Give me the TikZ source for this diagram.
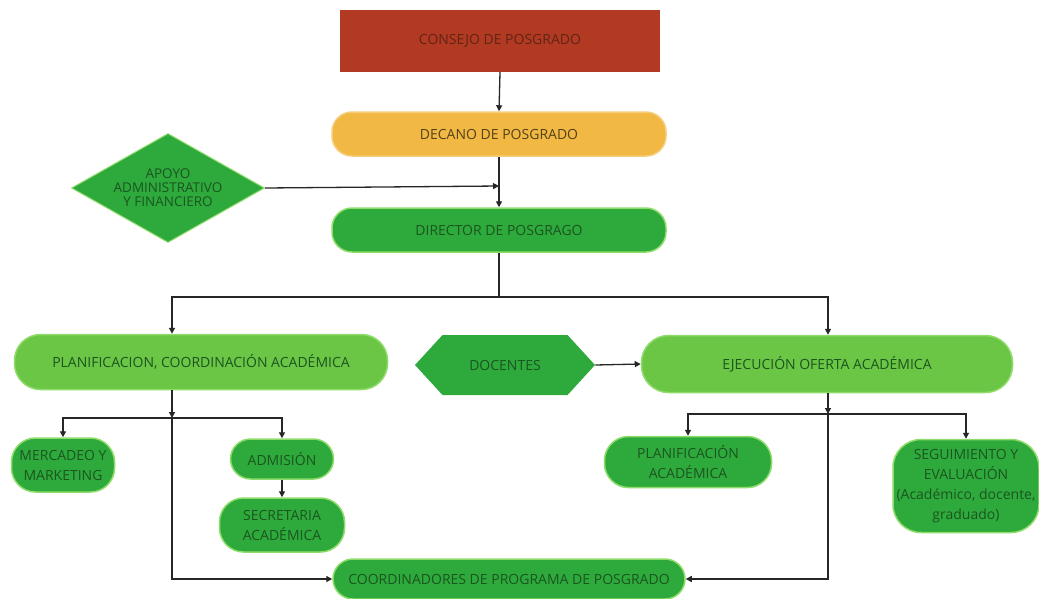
\documentclass[tikz,border=0pt]{standalone}
\usepackage{fontspec}
\setmainfont{Open Sans}
\usetikzlibrary{shapes.geometric,shapes.symbols,arrows.meta}
\definecolor{cred}{HTML}{B33A22}
\definecolor{credtxt}{HTML}{5E2416}
\definecolor{cyel}{HTML}{F1B843}
\definecolor{cyeltxt}{HTML}{54421A}
\definecolor{cgreen}{HTML}{2EAA3C}
\definecolor{clight}{HTML}{6CC645}
\definecolor{cedge}{HTML}{8EDC6A}
\definecolor{ctxt}{HTML}{1B5520}
\definecolor{cline}{HTML}{262626}
\tikzset{
  every node/.style={font=\fontsize{14}{20}\selectfont, align=center, inner sep=2pt},
  pill/.style={rectangle, rounded corners=18pt, fill=cgreen, draw=cedge, line width=1.5pt, text=ctxt},
  lightpill/.style={pill, fill=clight},
  arr/.style={draw=cline, line width=1.3pt, -{Triangle[length=6pt,width=6pt]}},
  ln/.style={draw=cline, line width=1.3pt},
}
\begin{document}
\begin{tikzpicture}[x=1pt,y=-1pt]
\useasboundingbox (0,0) rectangle (1039,598);
\fill[white] (0,0) rectangle (1039,598);
% nodes
\node[rectangle, fill=cred, text=credtxt, minimum width=320pt, minimum height=62pt] (consejo) at (500,41) {CONSEJO DE POSGRADO};
\node[pill, fill=cyel, draw=cyel!70!white, text=cyeltxt, minimum width=334pt, minimum height=44pt, rounded corners=20pt] (decano) at (499,134) {DECANO DE POSGRADO};
\node[diamond, fill=cgreen, draw=cedge, line width=1pt, minimum width=193pt, minimum height=109pt, inner sep=0pt] (apoyo) at (168,188) {};
\node[text=ctxt, font=\fontsize{13.5}{14}\selectfont] (apoyotxt) at (apoyo.center) {APOYO\\ADMINISTRATIVO\\Y FINANCIERO};
\node[pill, minimum width=334pt, minimum height=44pt, rounded corners=20pt] (director) at (499,230) {DIRECTOR DE POSGRAGO};
\node[lightpill, minimum width=373pt, minimum height=55pt, rounded corners=26pt] (planif) at (201,362) {PLANIFICACION, COORDINACIÓN ACADÉMICA};
\node[signal, signal to=west and east, signal pointer angle=95, fill=cgreen, text=ctxt, minimum width=180pt, minimum height=60pt, inner sep=0pt] (docentes) at (505,365) {DOCENTES};
\node[lightpill, minimum width=371pt, minimum height=57pt, rounded corners=27pt] (ejec) at (827,364) {EJECUCIÓN OFERTA ACADÉMICA};
\node[pill, minimum width=103pt, minimum height=54pt, rounded corners=24pt] (merc) at (63,465) {MERCADEO Y\\MARKETING};
\node[pill, minimum width=103pt, minimum height=40pt, rounded corners=20pt] (adm) at (282,459) {ADMISIÓN};
\node[pill, minimum width=125pt, minimum height=54pt, rounded corners=24pt] (secre) at (282,525) {SECRETARIA\\ACADÉMICA};
\node[pill, minimum width=167pt, minimum height=51pt, rounded corners=24pt] (plaac) at (688,462) {PLANIFICACIÓN\\ACADÉMICA};
\node[pill, minimum width=146pt, minimum height=93pt, rounded corners=28pt] (segui) at (966,486) {SEGUIMIENTO Y\\EVALUACIÓN\\(Académico, docente,\\graduado)};
\node[pill, minimum width=352pt, minimum height=40pt, rounded corners=20pt] (coord) at (509,579) {COORDINADORES DE PROGRAMA DE POSGRADO};
% coordinates
\coordinate (j1) at (499,297);
\coordinate (j2) at (172,418);
\coordinate (j3) at (828,414);
\coordinate (jin) at (499,186);
% connectors
\draw[arr] (consejo.south) -- (decano.north);
\draw[arr] (decano.south) -- (director.north);
\draw[arr] (apoyo.east) -- (jin);
\draw[ln] (director.south) -- (j1);
\draw[arr] (j1) -| (planif.north -| j2);
\draw[arr] (j1) -| (ejec.north -| j3);
\draw[arr] (planif.south -| j2) -- (j2);
\draw[arr] (j2) -| (merc.north);
\draw[arr] (j2) -| (adm.north);
\draw[arr] (j2) |- (coord.west);
\draw[arr] (adm.south) -- (secre.north);
\draw[arr] (docentes.east) -- (ejec.west);
\draw[arr] (ejec.south -| j3) -- (j3);
\draw[arr] (j3) -| (plaac.north);
\draw[arr] (j3) -| (segui.north);
\draw[arr] (j3) |- (coord.east);
\end{tikzpicture}
\end{document}
